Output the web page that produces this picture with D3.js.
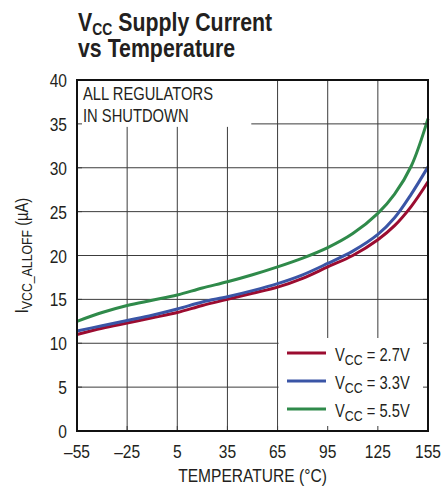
<!DOCTYPE html>
<html>
<head>
<meta charset="utf-8">
<script src="https://cdn.jsdelivr.net/npm/d3@7"></script>
<style>
  body { margin: 0; background: #fff; }
  text { font-family: "Liberation Sans", Arial, sans-serif; fill: #231f20; }
</style>
</head>
<body>
<svg width="443" height="487"></svg>
<script>
// data
const temps = [-55, -40, -25, -10, 5, 20, 35, 50, 65, 80, 95, 110, 125, 135, 145, 155];
const vcc27 = [11.0, 11.7, 12.3, 12.9, 13.5, 14.3, 15.0, 15.7, 16.4, 17.4, 18.7, 20.0, 21.8, 23.4, 25.6, 28.4];
const vcc33 = [11.4, 12.0, 12.6, 13.2, 13.9, 14.7, 15.3, 16.0, 16.8, 17.8, 19.1, 20.5, 22.4, 24.3, 27.0, 30.1];
const vcc55 = [12.5, 13.5, 14.3, 14.9, 15.5, 16.3, 17.0, 17.8, 18.7, 19.7, 20.9, 22.5, 24.8, 27.0, 30.2, 35.6];
const seriesNames = ["2.7V", "3.3V", "5.5V"];
const seriesColors = ["#9b0c30", "#3a55a6", "#2f8a4a"];
const xTicks = [-55, -25, 5, 35, 65, 95, 125, 155];
const yTicks = [0, 5, 10, 15, 20, 25, 30, 35, 40];

const svg = d3.select('svg');
const m = { left: 77, right: 428, top: 80, bottom: 431 };
const sx = 0.82; // condensed look

const x = d3.scaleLinear().domain([-55, 155]).range([m.left, m.right]);
const y = d3.scaleLinear().domain([0, 40]).range([m.bottom, m.top]);

function ntext(px, py, size, extra) {
  return svg.append('text')
    .attr('transform', `translate(${px},${py})${extra || ''} scale(${sx},1)`)
    .style('font-size', size + 'px');
}

// title
const title = ntext(78, 31, 26).style('font-weight', 'bold');
title.append('tspan').text('V');
title.append('tspan').attr('dy', 4).style('font-size', '17px').text('CC');
title.append('tspan').attr('dy', -4).text(' Supply Current');
ntext(78, 57, 26).style('font-weight', 'bold').text('vs Temperature');

// grid
const g = svg.append('g');
g.selectAll('.vg').data(xTicks.slice(1, -1)).enter().append('line')
  .attr('x1', d => x(d)).attr('x2', d => x(d))
  .attr('y1', m.top).attr('y2', m.bottom)
  .attr('stroke', '#3c3c3c').attr('stroke-width', 1);
g.selectAll('.hg').data(yTicks.slice(1, -1)).enter().append('line')
  .attr('x1', m.left).attr('x2', m.right)
  .attr('y1', d => y(d)).attr('y2', d => y(d))
  .attr('stroke', '#3c3c3c').attr('stroke-width', 1);

// curves
const line = d3.line().x(d => x(d[0])).y(d => y(d[1])).curve(d3.curveCatmullRom);
[vcc27, vcc33, vcc55].forEach((vals, i) => {
  svg.append('path')
    .datum(temps.map((t, j) => [t, vals[j]]))
    .attr('d', line)
    .attr('fill', 'none')
    .attr('stroke', seriesColors[i])
    .attr('stroke-width', 3);
});

// annotation box
svg.append('rect').attr('x', m.left).attr('y', m.top)
  .attr('width', x(5) + 74 - m.left).attr('height', y(35) + 3 - m.top).attr('fill', '#fff');
ntext(83, 100, 18).text('ALL REGULATORS');
ntext(83, 122, 18).text('IN SHUTDOWN');

// legend box
svg.append('rect').attr('x', x(65) + 1).attr('y', 338)
  .attr('width', m.right - x(65) - 1).attr('height', m.bottom - 338).attr('fill', '#fff');
seriesNames.forEach((name, i) => {
  const ly = 353 + i * 28;
  svg.append('line').attr('x1', 287).attr('x2', 326).attr('y1', ly).attr('y2', ly)
    .attr('stroke', seriesColors[i]).attr('stroke-width', 3);
  const t = ntext(335, ly + 8, 18);
  t.append('tspan').text('V');
  t.append('tspan').attr('dy', 4).style('font-size', '15px').text('CC');
  t.append('tspan').attr('dy', -4).text(' = ' + name);
});

// inward ticks along the frame
const tk = 5;
svg.selectAll('.tb').data(xTicks.slice(1, -1)).enter().append('line')
  .attr('x1', d => x(d)).attr('x2', d => x(d)).attr('y1', m.bottom).attr('y2', m.bottom - tk)
  .attr('stroke', '#3c3c3c');
svg.selectAll('.tr').data(yTicks.slice(1, -1)).enter().append('line')
  .attr('x1', m.right).attr('x2', m.right - tk).attr('y1', d => y(d)).attr('y2', d => y(d))
  .attr('stroke', '#3c3c3c');
svg.selectAll('.tl').data(yTicks.slice(1, -1)).enter().append('line')
  .attr('x1', m.left).attr('x2', m.left + tk).attr('y1', d => y(d)).attr('y2', d => y(d))
  .attr('stroke', '#3c3c3c');

// frame
svg.append('rect').attr('x', m.left).attr('y', m.top)
  .attr('width', m.right - m.left).attr('height', m.bottom - m.top)
  .attr('fill', 'none').attr('stroke', '#111').attr('stroke-width', 2);

// tick labels
xTicks.forEach(d => {
  ntext(x(d), 458, 19).attr('text-anchor', 'middle')
    .text(d < 0 ? '\u2013' + Math.abs(d) : d);
});
yTicks.forEach(d => {
  ntext(67, y(d) + 7, 19).attr('text-anchor', 'end').text(d);
});

// axis titles
ntext((m.left + m.right) / 2, 482, 19).attr('text-anchor', 'middle').text('TEMPERATURE (\u00b0C)');
const yt = ntext(28, (m.top + m.bottom) / 2, 18, ' rotate(-90)').attr('text-anchor', 'middle');
yt.append('tspan').text('I');
yt.append('tspan').attr('dy', 4).style('font-size', '15px').text('VCC_ALLOFF');
yt.append('tspan').attr('dy', -4).text(' (\u00b5A)');
</script>
</body>
</html>
